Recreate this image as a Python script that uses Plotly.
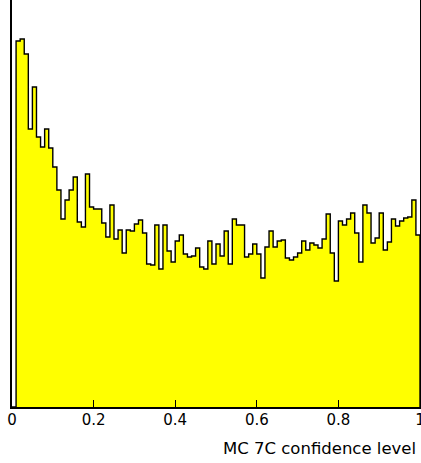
import numpy as np
import plotly.graph_objects as go

# Entries per bin of the 7C kinematic-fit confidence level (100 bins on [0, 1])
counts = [
    0, 366, 368, 353, 278, 320, 270, 260, 278, 259,
    240, 217, 188, 207, 217, 230, 185, 180, 233, 200,
    198, 198, 184, 170, 202, 168, 177, 154, 177, 176,
    183, 187, 174, 143, 142, 182, 138, 182, 156, 145,
    166, 172, 153, 150, 151, 159, 140, 138, 166, 143,
    163, 151, 176, 143, 188, 182, 182, 150, 153, 163,
    153, 129, 160, 176, 160, 166, 167, 149, 147, 150,
    154, 166, 157, 164, 162, 159, 168, 193, 154, 126,
    186, 182, 188, 194, 174, 145, 202, 194, 164, 169,
    194, 157, 165, 188, 181, 186, 189, 190, 207, 172,
]
tick_values = [0, 0.2, 0.4, 0.6, 0.8, 1]
tick_labels = ["0", "0.2", "0.4", "0.6", "0.8", "1"]
x_title = "MC 7C confidence level"

n_bins = len(counts)
edges = np.linspace(0.0, 1.0, n_bins + 1)

# step outline: each bin's level starts at its left edge, closed at x = 1
xs = list(edges[:-1]) + [edges[-1], edges[-1]]
ys = list(counts) + [counts[-1], 0]

fig = go.Figure(
    go.Scatter(
        x=xs,
        y=ys,
        mode="lines",
        line=dict(shape="hv", color="black", width=1.4),
        fill="tozeroy",
        fillcolor="#ffff00",
        hoverinfo="skip",
    )
)

fig.update_layout(
    width=421,
    height=463,
    margin=dict(l=12, r=1, t=0, b=56),
    paper_bgcolor="white",
    plot_bgcolor="white",
    showlegend=False,
    font=dict(family="DejaVu Sans", color="black"),
    xaxis=dict(
        range=[0, 1],
        tickvals=tick_values,
        ticktext=tick_labels,
        ticks="inside",
        ticklen=7,
        tickwidth=1,
        tickcolor="black",
        tickfont=dict(size=15, family="DejaVu Sans", color="black"),
        ticklabeloverflow="allow",
        ticklabelstandoff=-2,
        automargin=False,
        showline=True,
        linecolor="black",
        linewidth=1.5,
        mirror=False,
        showgrid=False,
        zeroline=False,
    ),
    yaxis=dict(
        range=[0, 407],
        showticklabels=False,
        ticks="",
        automargin=False,
        showline=True,
        linecolor="black",
        linewidth=1.5,
        mirror=True,
        showgrid=False,
        zeroline=False,
    ),
    annotations=[
        dict(
            text=x_title,
            xref="paper",
            yref="paper",
            x=1,
            y=0,
            xanchor="right",
            yanchor="middle",
            xshift=-2,
            yshift=-41,
            showarrow=False,
            font=dict(size=16.5, family="DejaVu Sans", color="black"),
        )
    ],
)

fig.write_html("out.html")
